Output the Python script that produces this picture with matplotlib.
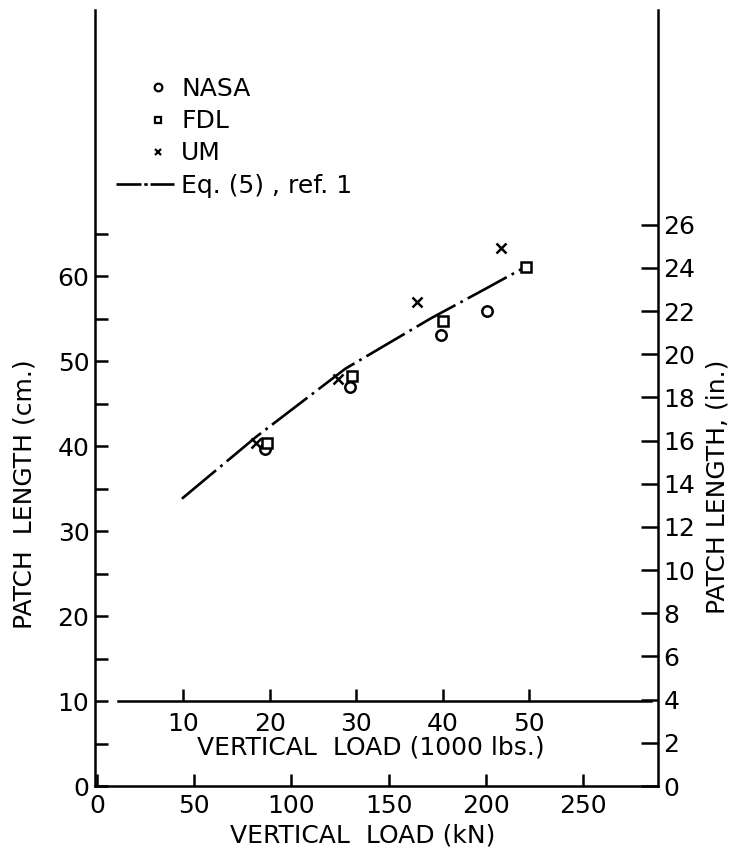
import numpy as np
import matplotlib
matplotlib.use("Agg")
import matplotlib.pyplot as plt
from matplotlib.lines import Line2D
from matplotlib.legend_handler import HandlerLine2D

plt.rcParams['font.family'] = ['DejaVu Sans']
plt.rcParams['lines.scale_dashes'] = False

# ---- data ----
nasa_kN = [86.6, 130.4, 176.8, 200.5]
nasa_cm = [39.6, 47.0, 53.1, 55.9]
fdl_kN = [87.5, 131.3, 178.2, 220.6]
fdl_cm = [40.3, 48.2, 54.7, 61.1]
um_kN = [82.0, 124.0, 164.8, 207.7]
um_cm = [40.4, 47.9, 56.9, 63.3]
eq_kN = [43.7, 82.0, 127.8, 171.6, 199.1, 220.6]
eq_cm = [33.8, 41.1, 49.1, 55.0, 58.4, 61.1]

cm_major = [0, 10, 20, 30, 40, 50, 60]
cm_minor = [5, 15, 25, 35, 45, 55, 65]
in_ticks = [0, 2, 4, 6, 8, 10, 12, 14, 16, 18, 20, 22, 24, 26]
kN_ticks = [0, 50, 100, 150, 200, 250]
klbs_ticks = [10, 20, 30, 40, 50]
labels = ["NASA", "FDL", "UM", "Eq. (5) , ref. 1"]

KN_PER_KLB = 4.448
CM_PER_IN = 2.54
FS = 18
LW = 1.8

W, H = 732, 851
fig = plt.figure(figsize=(W / 100, H / 100), dpi=100)
L, R, T, B = 95, 658, 10, 786
ax = fig.add_axes([L / W, 1 - B / H, (R - L) / W, (B - T) / H])
ax.set_xlim(-1, 288.6)
ax.set_ylim(0, 91.3)

for s in ['top', 'right']:
    ax.spines[s].set_visible(False)
for s in ['left', 'bottom']:
    ax.spines[s].set_linewidth(LW)

ax.set_yticks(cm_major)
ax.set_yticks(cm_minor, minor=True)
ax.set_xticks(kN_ticks)
ax.tick_params(axis='y', which='both', direction='in', length=9, width=LW,
               labelsize=FS, pad=4)
ax.tick_params(axis='x', which='both', direction='in', length=9, width=LW,
               labelsize=FS, pad=6)

# data
ax.plot(nasa_kN, nasa_cm, ls='none', marker='o', ms=7.5, mfc='white',
        mec='black', mew=1.8, zorder=4)
ax.plot(fdl_kN, fdl_cm, ls='none', marker='s', ms=7, mfc='white',
        mec='black', mew=1.8, zorder=4)
ax.plot(um_kN, um_cm, ls='none', marker='x', ms=7.5, color='black',
        mew=1.8, zorder=4)
ax.plot(eq_kN, eq_cm, color='black', lw=1.9,
        ls=(0, (32, 4, 2, 4)), zorder=3)

# right axis (inches)
sec_y = ax.secondary_yaxis('right', functions=(lambda c: c / CM_PER_IN,
                                              lambda i: i * CM_PER_IN))
sec_y.set_yticks(in_ticks)
sec_y.spines['right'].set_linewidth(LW)
sec_y.tick_params(axis='y', direction='in', length=12, width=LW,
                  labelsize=FS, pad=4)

# secondary x axis (1000 lbs) drawn at cm = 10
loc = 10 / 91.3
sec_x = ax.secondary_xaxis(loc, functions=(lambda k: k / KN_PER_KLB,
                                            lambda p: p * KN_PER_KLB))
sec_x.set_xticks(klbs_ticks)
sec_x.spines['bottom'].set_linewidth(LW)
sec_x.spines['bottom'].set_bounds(10.8 / KN_PER_KLB, 285 / KN_PER_KLB)
sec_x.tick_params(axis='x', which='major', direction='in', length=9,
                  width=LW, labelsize=FS, pad=8)

# axis labels
ax.set_xlabel("VERTICAL  LOAD (kN)", fontsize=FS)
ax.xaxis.set_label_coords((363 - L) / (R - L), (B - 824) / (B - T),
                          transform=ax.transAxes)
sec_x.set_xlabel("VERTICAL  LOAD (1000 lbs.)", fontsize=FS)
sec_x.xaxis.set_label_coords((371 - L) / (R - L), (B - 736) / (B - T),
                             transform=ax.transAxes)
ax.set_ylabel("PATCH  LENGTH (cm.)", fontsize=FS)
ax.yaxis.set_label_coords((37 - L) / (R - L), (B - 494) / (B - T),
                          transform=ax.transAxes)
sec_y.set_ylabel("PATCH LENGTH, (in.)", fontsize=FS)
sec_y.yaxis.set_label_coords((706 - L) / (R - L), (B - 487) / (B - T),
                             transform=ax.transAxes)


# legend
class RightMarker(HandlerLine2D):
    def get_xdata(self, legend, xdescent, ydescent, width, height, fontsize):
        x = -xdescent + width * 0.73
        return np.array([x, x]), np.array([x])


h_nasa = Line2D([], [], ls='none', marker='o', ms=5.5, mfc='white',
                mec='black', mew=1.6)
h_fdl = Line2D([], [], ls='none', marker='s', ms=5, mfc='white',
               mec='black', mew=1.6)
h_um = Line2D([], [], ls='none', marker='x', ms=5, color='black', mew=1.6)
h_eq = Line2D([], [], color='black', lw=1.9, ls=(0, (18, 2, 2.5, 2)))
hm = {h_nasa: RightMarker(), h_fdl: RightMarker(), h_um: RightMarker()}
leg = ax.legend([h_nasa, h_fdl, h_um, h_eq], labels, handler_map=hm,
                loc='upper left', frameon=False, fontsize=FS,
                bbox_to_anchor=((106 - L) / (R - L), 1 - (67 - T) / (B - T)),
                borderaxespad=0, handlelength=2.3, handletextpad=0.3,
                labelspacing=0.33)

fig.savefig("out.png", dpi=100)
